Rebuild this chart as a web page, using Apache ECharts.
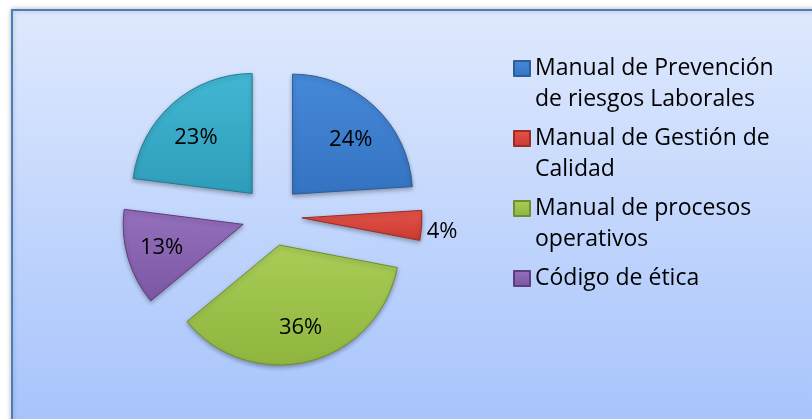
<!DOCTYPE html>
<html><head><meta charset="utf-8">
<script src="https://cdn.jsdelivr.net/npm/echarts@6/dist/echarts.min.js"></script>
<style>html,body{margin:0;padding:0;background:#fff}#c{width:812px;height:419px}</style>
</head><body><div id="c"></div>
<script>
const categories = ['Manual de Prevención de riesgos Laborales', 'Manual de Gestión de Calidad', 'Manual de procesos operativos', 'Código de ética', 'Otros'];
const values = [24, 4, 36, 13, 23];
const legendNames = ['Manual de Prevención de riesgos Laborales', 'Manual de Gestión de Calidad', 'Manual de procesos operativos', 'Código de ética'];
const legendLines = [['Manual de Prevención', 'de riesgos Laborales'], ['Manual de Gestión de', 'Calidad'], ['Manual de procesos', 'operativos'], ['Código de ética', ' ']];
const topColors = ['#4689d9', '#e5534a', '#a9cd57', '#9570bd', '#42b7d3'];
const bottomColors = ['#3473c2', '#c93a31', '#8fb53f', '#7b56a2', '#2e9dba'];
const borderColors = ['#2d5e99', '#9e2b24', '#6f8e2c', '#5c3f7d', '#237c93'];

const FONT = '"Open Sans", "Noto Sans", sans-serif';
const total = values.reduce((a, b) => a + b, 0);
function midAngle(i) {
  let cum = 0;
  for (let j = 0; j < i; j++) cum += values[j];
  return (cum + values[i] / 2) / total * 2 * Math.PI;
}

const chart = echarts.init(document.getElementById('c'), null, {renderer: 'canvas'});
const option = {
  animation: false,
  graphic: [{
    type: 'rect', z: -100, silent: true,
    shape: {x: 12, y: 10, width: 820, height: 430},
    style: {
      fill: new echarts.graphic.LinearGradient(0, 0, 0, 1, [
        {offset: 0, color: '#dfe9fd'}, {offset: 1, color: '#a4c2fc'}
      ]),
      stroke: '#4a7ebb', lineWidth: 2,
      shadowBlur: 5, shadowColor: 'rgba(0,0,0,0.25)'
    }
  }],
  legend: {
    data: legendNames,
    orient: 'vertical',
    left: 513, top: 22, padding: 0,
    itemWidth: 16, itemHeight: 15, itemGap: -23,
    icon: 'rect', selectedMode: false,
    formatter: function (name) { return [' '].concat(legendLines[legendNames.indexOf(name)]).join('\n'); },
    textStyle: {fontFamily: FONT, fontSize: 23, lineHeight: 31, color: '#000'}
  },
  series: [{
    type: 'pie',
    center: [272, 216],
    radius: 120,
    startAngle: 90,
    clockwise: true,
    selectedMode: 'multiple',
    selectedOffset: 30,
    avoidLabelOverlap: false,
    emphasis: {disabled: true},
    label: {
      position: 'inside', fontFamily: FONT, fontSize: 22, color: '#000',
      formatter: function (p) { return p.percent + '%'; }
    },
    labelLine: {show: false, length: 0, length2: 0},
    labelLayout: function (p) {
      const i = p.dataIndex;
      if (i === 1) return {dy: 6};
      const th = midAngle(i);
      const c = Math.cos(th);
      return {dx: 22 * Math.sin(th), dy: -22 * c + 10 * Math.max(0, c)};
    },
    data: categories.map(function (n, i) {
      const style = {
        color: new echarts.graphic.LinearGradient(0, 0, 0, 1, [
          {offset: 0, color: topColors[i]}, {offset: 1, color: bottomColors[i]}
        ]),
        borderColor: borderColors[i], borderWidth: 1,
        shadowBlur: 4, shadowOffsetY: 2, shadowColor: 'rgba(0,0,0,0.3)'
      };
      const d = {name: n, value: values[i], selected: true, itemStyle: style, select: {itemStyle: style}};
      if (i === 1) d.label = {position: 'outside'};
      return d;
    })
  }]
};
chart.setOption(option);
</script>
</body></html>
